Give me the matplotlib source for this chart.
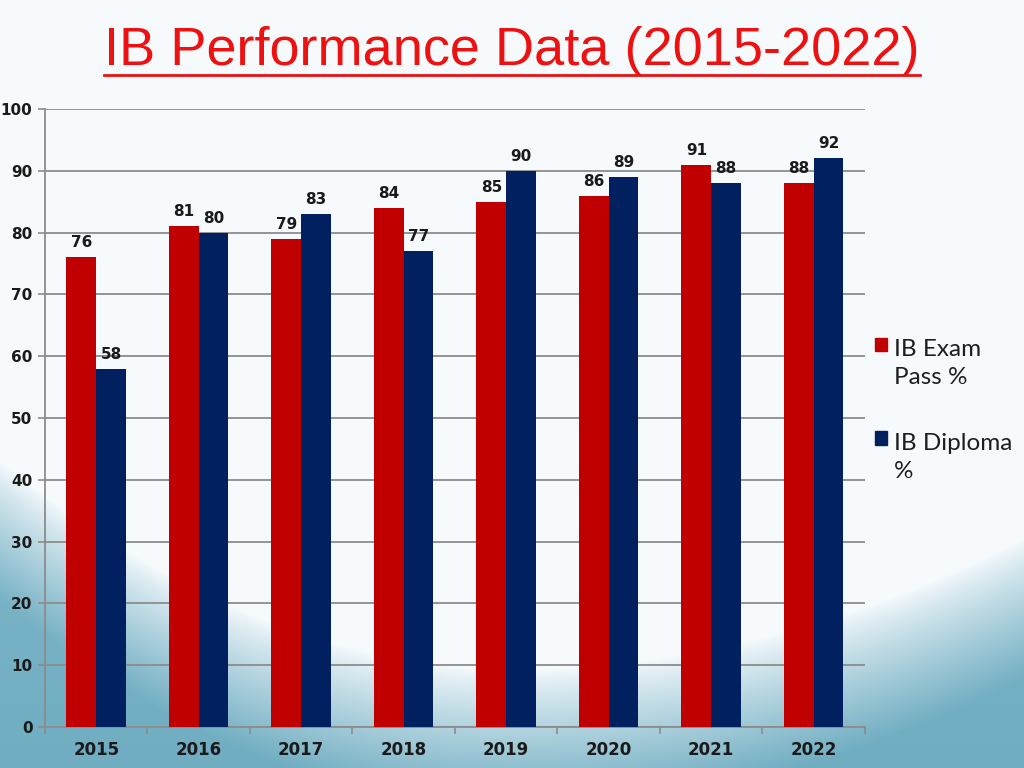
import numpy as np
import matplotlib
matplotlib.use("Agg")
import matplotlib.pyplot as plt
from matplotlib.patches import Patch, Rectangle
from matplotlib.legend_handler import HandlerPatch
from matplotlib import font_manager

years = ["2015", "2016", "2017", "2018", "2019", "2020", "2021", "2022"]
exam_pass = [76, 81, 79, 84, 85, 86, 91, 88]
diploma = [58, 80, 83, 77, 90, 89, 88, 92]
yticks = [0, 10, 20, 30, 40, 50, 60, 70, 80, 90, 100]

RED = "#c00000"
NAVY = "#002060"

names = {f.name for f in font_manager.fontManager.ttflist}

fig = plt.figure(figsize=(10.24, 7.68), dpi=100)

# background gradient
bg = fig.add_axes([0, 0, 1, 1], zorder=-10)
bg.set_axis_off()
H, W = 384, 512
yy, xx = np.mgrid[0:H, 0:W]
yn = yy / H
xn = xx / W
top = np.array([0.965, 0.982, 0.992])
low = np.array([0.44, 0.68, 0.76])
a = np.where(xn < 0.5, 0.27, 0.17)
thr = 0.87 - a * ((xn - 0.5) * 2) ** 2
t = np.clip((yn - thr) / 0.18, 0, 1) ** 0.8
t = np.clip(t * (0.75 + 0.25 * np.clip(yn, 0, 1)), 0, 1)
tt = t[..., None]
img = top * (1 - tt) + low * tt
bg.imshow(img, extent=[0, 1, 0, 1], aspect="auto", origin="upper", interpolation="bilinear")
bg.set_xlim(0, 1)
bg.set_ylim(0, 1)

ax = fig.add_axes([0.0439, 0.0534, 0.8008, 0.8047])
ax.set_facecolor("none")
x = np.arange(len(years))
w = 0.29
b1 = ax.bar(x - w / 2, exam_pass, w, color=RED, zorder=3)
b2 = ax.bar(x + w / 2, diploma, w, color=NAVY, zorder=3)
for bars, vals in ((b1, exam_pass), (b2, diploma)):
    for r, v in zip(bars, vals):
        ax.annotate(str(v), (r.get_x() + r.get_width() / 2, v), xytext=(0, 5),
                    textcoords="offset points", ha="center", va="bottom",
                    fontsize=11, fontweight="bold", color="#1a1a1a")

ax.set_ylim(0, 100)
ax.set_xlim(-0.5, len(years) - 0.5)
ax.set_yticks(yticks)
ax.set_yticklabels([str(v) for v in yticks], fontsize=11, fontweight="bold", color="#1a1a1a")
ax.set_xticks(x)
ax.set_xticklabels(years, fontsize=12, fontweight="bold", color="#1a1a1a")
ax.tick_params(axis="x", length=0, pad=10)
ax.set_xticks(np.arange(-0.5, len(years)), minor=True)
ax.tick_params(axis="x", which="minor", length=5, color="#8c8c8c", width=1.2)
ax.tick_params(axis="y", length=5, color="#8c8c8c", width=1.2, pad=4)
ax.grid(axis="y", color="#8c8c8c", linewidth=1.3, zorder=0)
for s in ("top", "right"):
    ax.spines[s].set_visible(False)
for s in ("left", "bottom"):
    ax.spines[s].set_color("#8c8c8c")
    ax.spines[s].set_linewidth(1.3)


def top_patch(legend, orig_handle, xdescent, ydescent, width, height, fontsize):
    return Rectangle((-xdescent, -ydescent + fontsize * 0.78), width * 1.0, height)


leg_font = "Lato" if "Lato" in names else "DejaVu Sans"
handles = [Patch(color=RED), Patch(color=NAVY)]
leg = ax.legend(handles, ["IB Exam\nPass %", "IB Diploma\n%"], loc="upper left",
                bbox_to_anchor=(1.0, 0.643), frameon=False,
                prop={"family": leg_font, "size": 17.5, "weight": "normal"},
                handlelength=0.5, handleheight=0.5, handletextpad=0.28,
                labelspacing=1.87, borderaxespad=0.0,
                handler_map={Patch: HandlerPatch(patch_func=top_patch)})
for t_ in leg.get_texts():
    t_.set_color("#1e1e1e")
    t_.set_linespacing(1.38)

title = fig.text(0.5, 0.933, "IB Performance Data (2015-2022)", ha="center", va="center",
                 fontsize=39, color="#ee1111", family="Liberation Sans")
fig.canvas.draw()
bb = title.get_window_extent()
fig.add_artist(plt.Line2D([bb.x0 / 1024, bb.x1 / 1024], [(bb.y0 + 1) / 768] * 2,
                          color="#ee1111", linewidth=2, transform=fig.transFigure))

fig.savefig("out.png", dpi=100)
